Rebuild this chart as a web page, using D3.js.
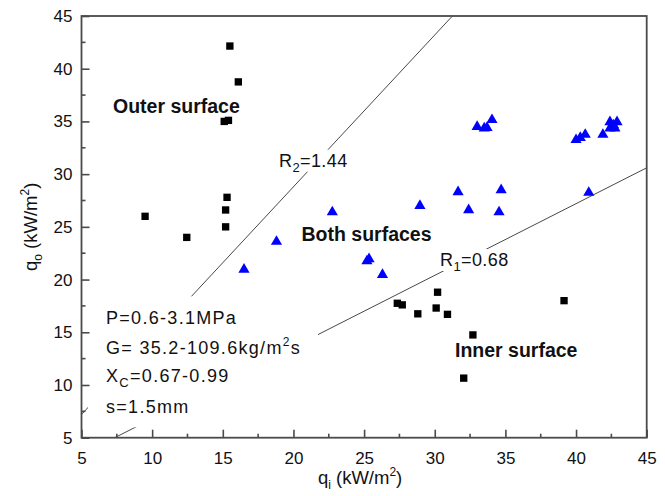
<!DOCTYPE html>
<html><head><meta charset="utf-8">
<script src="https://cdn.jsdelivr.net/npm/d3@7"></script>
<style>
body{margin:0;background:#fff;}
svg text{font-family:"Liberation Sans",Arial,sans-serif;}
</style></head>
<body><svg id="c" width="665" height="496"></svg>
<script>
// ---- data ----
const outerX = [9.5, 12.45, 15.2, 15.2, 15.3, 15.1, 15.4, 15.5, 16.1];
const outerY = [26.0, 24.0, 25.0, 26.6, 27.8, 35.0, 35.1, 42.15, 38.75];
const innerX = [27.35, 27.7, 28.8, 30.1, 30.2, 30.9, 32.05, 32.7, 39.15];
const innerY = [17.75, 17.6, 16.75, 17.3, 18.8, 16.7, 10.65, 14.75, 18.0];
const bothX = [16.5, 18.8, 22.75, 25.2, 25.35, 26.3, 28.95, 31.65, 32.4, 33.0, 33.5, 33.7, 34.05, 34.55, 34.7,
               40.0, 40.3, 40.65, 40.9, 41.9, 42.4, 42.4, 42.65, 42.75, 42.9];
const bothY = [20.95, 23.6, 26.4, 21.75, 21.95, 20.45, 27.0, 28.3, 26.6, 34.5, 34.35, 34.4, 35.15, 26.4, 28.5,
               33.25, 33.45, 33.75, 28.25, 33.75, 34.35, 34.95, 34.65, 34.35, 34.95];
const ratioNames = ["R1", "R2"];
const ratioValues = [0.68, 1.44];
const xTicks = [5, 10, 15, 20, 25, 30, 35, 40, 45];
const yTicks = [5, 10, 15, 20, 25, 30, 35, 40, 45];
const paramLines = ["P=0.6-3.1MPa", "G= 35.2-109.6kg/m²s", "X_C=0.67-0.99", "s=1.5mm"];
const regionLabels = ["Outer surface", "Both surfaces", "Inner surface"];

// ---- layout ----
const L = 81.5, R = 646.7, T = 16, B = 437.7;
const svg = d3.select("#c");
const x = d3.scaleLinear().domain([5, 45]).range([L, R]);
const y = d3.scaleLinear().domain([5, 45]).range([B, T]);
const axisCol = "#4a4a4a";

// regression lines y = R*x, clipped to the frame
svg.append("clipPath").attr("id", "clip").append("rect")
  .attr("x", L).attr("y", T).attr("width", R - L).attr("height", B - T);
const lineG = svg.append("g").attr("clip-path", "url(#clip)");
ratioValues.forEach(r => {
  const x0 = Math.max(5, 5 / r), x1 = Math.min(45, 45 / r);
  lineG.append("line")
    .attr("x1", x(x0)).attr("y1", y(r * x0))
    .attr("x2", x(x1)).attr("y2", y(r * x1))
    .attr("stroke", "#333").attr("stroke-width", 0.9);
});

// helper: white box behind a text group
function maskedText(g, pad) {
  const bb = g.node().getBBox();
  g.insert("rect", ":first-child")
    .attr("x", bb.x - pad[3]).attr("y", bb.y - pad[0])
    .attr("width", bb.width + pad[1] + pad[3]).attr("height", bb.height + pad[0] + pad[2])
    .attr("fill", "#fff");
}

// parameter block
const pg = svg.append("g");
const pBase = [324.3, 354.3, 381.7, 413.3];
paramLines.forEach((s, i) => {
  const t = pg.append("text").attr("x", 106).attr("y", pBase[i]).attr("font-size", 18).attr("fill", "#111")
    .attr("letter-spacing", 1.3);
  if (s.startsWith("X_C")) {
    t.append("tspan").text("X");
    t.append("tspan").text("C").attr("font-size", 13).attr("dy", 5);
    t.append("tspan").text(s.slice(3)).attr("dy", -5);
  } else if (s.includes("m²s")) {
    t.append("tspan").text(s.replace("m²s", "m"));
    t.append("tspan").text("2").attr("font-size", 12).attr("dy", -8);
    t.append("tspan").text("s").attr("dy", 8);
  } else t.text(s);
});
maskedText(pg, [12, 17, 10, 18]);

// ratio labels
const rLabelPos = [[440, 266], [279, 166.7]];
ratioNames.forEach((n, i) => {
  const g = svg.append("g");
  const t = g.append("text").attr("x", rLabelPos[i][0]).attr("y", rLabelPos[i][1])
    .attr("font-size", 18).attr("fill", "#111").attr("letter-spacing", 0.4);
  t.append("tspan").text("R");
  t.append("tspan").text(n.slice(1)).attr("font-size", 13).attr("dy", 5);
  t.append("tspan").text("=" + ratioValues[i].toFixed(2)).attr("dy", -5);
  maskedText(g, [1, 2, -3, 2]);
});

// region labels
const regionPos = [[113, 113], [301.5, 240.7], [455, 357.3]];
regionLabels.forEach((s, i) => {
  svg.append("text").attr("x", regionPos[i][0]).attr("y", regionPos[i][1])
    .attr("font-size", 19.5).attr("font-weight", "bold").attr("fill", "#111").text(s);
});

// markers
const sq = d3.symbol().type(d3.symbolSquare).size(54);
const tri = d3.symbol().type(d3.symbolTriangle).size(54);
svg.append("g").selectAll("path").data(outerX.map((v, i) => [v, outerY[i]]).concat(innerX.map((v, i) => [v, innerY[i]])))
  .join("path").attr("d", sq).attr("transform", d => `translate(${x(d[0])},${y(d[1])})`).attr("fill", "#000");
svg.append("g").selectAll("path").data(bothX.map((v, i) => [v, bothY[i]]))
  .join("path").attr("d", tri).attr("transform", d => `translate(${x(d[0])},${y(d[1])})`).attr("fill", "#0000ff");

// axes (inward ticks)
const minorX = d3.range(7.5, 45, 5), minorY = d3.range(7.5, 45, 5);
const xa = svg.append("g").attr("transform", `translate(0,${B})`)
  .call(d3.axisBottom(x).tickValues(xTicks).tickSize(-8).tickPadding(14).tickFormat(d3.format("d")));
const ya = svg.append("g").attr("transform", `translate(${L},0)`)
  .call(d3.axisLeft(y).tickValues(yTicks).tickSize(-8).tickPadding(9).tickFormat(d3.format("d")));
xa.append("g").selectAll("line").data(minorX).join("line").attr("x1", d => x(d)).attr("x2", d => x(d)).attr("y1", 0).attr("y2", -4);
ya.append("g").selectAll("line").data(minorY).join("line").attr("y1", d => y(d)).attr("y2", d => y(d)).attr("x1", 0).attr("x2", 4);
[xa, ya].forEach(a => {
  a.select(".domain").remove();
  a.selectAll("line").attr("stroke", axisCol).attr("stroke-width", 1.6);
  a.selectAll("text").attr("font-size", 17).attr("fill", "#111").attr("font-family", "Liberation Sans, Arial, sans-serif");
});
svg.append("rect").attr("x", L).attr("y", T).attr("width", R - L).attr("height", B - T)
  .attr("fill", "none").attr("stroke", axisCol).attr("stroke-width", 1.8);

// axis titles
function axisTitle(sel, sub) {
  sel.append("tspan").text("q");
  sel.append("tspan").text(sub).attr("font-size", 12).attr("dy", 5);
  sel.append("tspan").text(" (kW/m").attr("dy", -5);
  sel.append("tspan").text("2").attr("font-size", 12).attr("dy", -8);
  sel.append("tspan").text(")").attr("dy", 8);
}
axisTitle(svg.append("text").attr("x", (L + R) / 2 - 4).attr("y", 484).attr("text-anchor", "middle")
  .attr("font-size", 18.5).attr("fill", "#111"), "i");
axisTitle(svg.append("text").attr("transform", `translate(37,${(T + B) / 2}) rotate(-90)`).attr("text-anchor", "middle")
  .attr("font-size", 18.5).attr("fill", "#111"), "o");
</script></body></html>
